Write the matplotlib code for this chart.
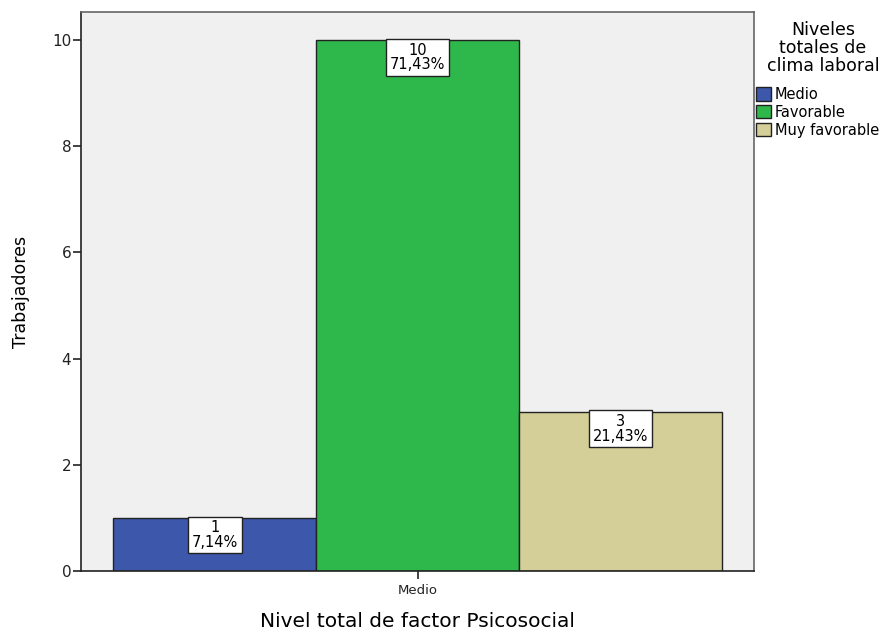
import matplotlib
matplotlib.use("Agg")
import matplotlib.pyplot as plt
from matplotlib.patches import Patch

plt.rcParams['font.family'] = ['DejaVu Sans']

categories = ["Medio", "Favorable", "Muy favorable"]
counts = [1, 10, 3]
percents = ["7,14%", "71,43%", "21,43%"]
colors = ["#3d57ab", "#2eb84b", "#d4ce98"]
x_group = "Medio"

fig = plt.figure(figsize=(8.96, 6.32), dpi=100)
ax = fig.add_axes([81/896, 1 - 571/632, (754 - 81)/896, (571 - 12)/632])
ax.set_facecolor("#f0f0f0")

offsets = [-1, 0, 1]
for off, c, col, pct in zip(offsets, counts, colors, percents):
    ax.bar(off, c, width=1.0, color=col, edgecolor="#222222", linewidth=1.0, zorder=2)
    ax.text(off, c - 0.045, f"{c}\n{pct}", ha="center", va="top", fontsize=10.5,
            linespacing=0.95, zorder=3,
            bbox=dict(boxstyle="square,pad=0.25", facecolor="white",
                      edgecolor="#222222", linewidth=1.0))

ax.set_xlim(-1.66, 1.66)
ax.set_ylim(0, 10.53)
ax.set_yticks([0, 2, 4, 6, 8, 10])
ax.set_xticks([0])
ax.set_xticklabels([x_group], fontsize=9.5)
ax.tick_params(axis="y", labelsize=11, length=6, width=1.2, colors="#222222", pad=1)
ax.tick_params(axis="x", length=6, width=1.2, colors="#222222", pad=3)
for s in ["left", "bottom"]:
    ax.spines[s].set_color("#222222")
    ax.spines[s].set_linewidth(1.2)
for s in ["top", "right"]:
    ax.spines[s].set_color("#666666")
    ax.spines[s].set_linewidth(1.2)

ax.set_ylabel("Trabajadores", fontsize=12.5, labelpad=16)
ax.set_xlabel("Nivel total de factor Psicosocial", fontsize=14.5, labelpad=11)

fig.text(823/896, 1 - 48/632, "Niveles\ntotales de\nclima laboral", ha="center",
         va="center", fontsize=12.5, linespacing=1.0)

handles = [Patch(facecolor=col, edgecolor="#222222", label=lab)
           for col, lab in zip(colors, categories)]
leg = fig.legend(handles=handles, loc="upper left",
                 bbox_to_anchor=(756/896, 1 - 87/632), frameon=False,
                 fontsize=10.5, handlelength=1.0, handleheight=1.0,
                 handletextpad=0.3, labelspacing=0.2, borderpad=0.0,
                 borderaxespad=0.0)

fig.savefig("out.png", dpi=100)
